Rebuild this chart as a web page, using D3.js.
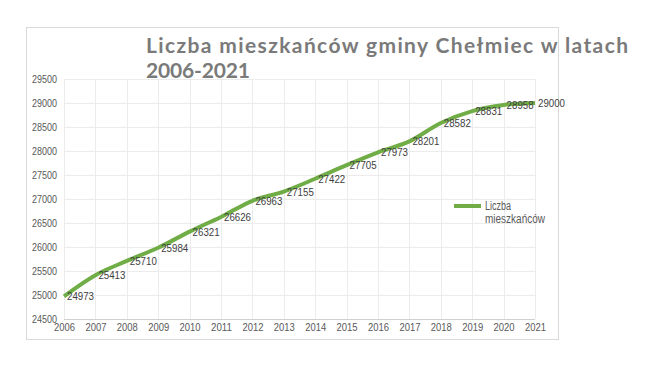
<!DOCTYPE html>
<html>
<head>
<meta charset="utf-8">
<script src="https://cdn.jsdelivr.net/npm/d3@7"></script>
<style>
  body { margin: 0; background: #fff; }
  svg { display: block; }
</style>
</head>
<body>
<div id="chart"></div>
<script>
const years = [2006, 2007, 2008, 2009, 2010, 2011, 2012, 2013, 2014, 2015, 2016, 2017, 2018, 2019, 2020, 2021];
const residents = [24973, 25413, 25710, 25984, 26321, 26626, 26963, 27155, 27422, 27705, 27973, 28201, 28582, 28831, 28958, 29000];
const yTicks = [24500, 25000, 25500, 26000, 26500, 27000, 27500, 28000, 28500, 29000, 29500];
const titleLines = ["Liczba mieszkańców gminy Chełmiec w latach", "2006-2021"];
const seriesName = ["Liczba", "mieszkańców"];

const width = 647, height = 377;
const font = "'Liberation Sans', Arial, sans-serif";

const svg = d3.select("#chart").append("svg")
    .attr("width", width)
    .attr("height", height);

// chart frame
svg.append("rect")
    .attr("x", 26.5).attr("y", 27.5)
    .attr("width", 532).attr("height", 312)
    .attr("fill", "#fff")
    .attr("stroke", "#d9d9d9");

const x = d3.scaleLinear().domain([2006, 2021]).range([64, 535]);
const y = d3.scaleLinear().domain([24500, 29500]).range([319, 79]);

// gridlines
const grid = svg.append("g");
grid.selectAll(".hg").data(yTicks).enter().append("line")
    .attr("x1", x(2006)).attr("x2", x(2021))
    .attr("y1", d => Math.round(y(d)) + 0.5).attr("y2", d => Math.round(y(d)) + 0.5)
    .attr("stroke", d => d === 24500 ? "#d0d0d0" : "#ececec");
grid.selectAll(".vg").data(years).enter().append("line")
    .attr("x1", d => Math.round(x(d)) + 0.5).attr("x2", d => Math.round(x(d)) + 0.5)
    .attr("y1", y(29500)).attr("y2", y(24500))
    .attr("stroke", "#ececec");

// axes
const yAxis = svg.append("g")
    .attr("transform", `translate(${x(2006)},0)`)
    .call(d3.axisLeft(y).tickValues(yTicks).tickSize(0).tickPadding(7).tickFormat(d3.format("d")));
yAxis.select(".domain").remove();
yAxis.selectAll(".tick text").attr("textLength", 25);

const xAxis = svg.append("g")
    .attr("transform", `translate(0,${y(24500)})`)
    .call(d3.axisBottom(x).tickValues(years).tickSize(0).tickPadding(5).tickFormat(d3.format("d")));
xAxis.select(".domain").remove();
xAxis.selectAll(".tick text").attr("textLength", 21);

svg.selectAll(".tick text")
    .attr("font-family", font)
    .attr("font-size", 10.5)
    .attr("lengthAdjust", "spacingAndGlyphs")
    .attr("fill", "#595959");

// series line
const points = years.map((yr, i) => [yr, residents[i]]);
const line = d3.line()
    .x(d => x(d[0]))
    .y(d => y(d[1]))
    .curve(d3.curveCatmullRom.alpha(0));

svg.append("path")
    .datum(points)
    .attr("fill", "none")
    .attr("stroke", "#70ad47")
    .attr("stroke-width", 4)
    .attr("stroke-linejoin", "round")
    .attr("d", line);

// data labels
svg.selectAll(".lbl").data(points).enter().append("text")
    .attr("x", d => x(d[0]) + 3)
    .attr("y", d => y(d[1]) + 4)
    .attr("font-family", font)
    .attr("font-size", 11)
    .attr("textLength", 27)
    .attr("lengthAdjust", "spacingAndGlyphs")
    .attr("fill", "#404040")
    .text(d => d[1]);

// title
svg.append("text")
    .attr("x", 146).attr("y", 53)
    .attr("font-family", "Lato, sans-serif")
    .attr("font-weight", "bold")
    .attr("font-size", 21)
    .attr("fill", "#7a7a7a")
    .attr("textLength", 482)
    .attr("lengthAdjust", "spacing")
    .text(titleLines[0]);
svg.append("text")
    .attr("x", 146).attr("y", 78)
    .attr("font-family", "Lato, sans-serif")
    .attr("font-weight", "bold")
    .attr("font-size", 21)
    .attr("fill", "#7a7a7a")
    .attr("textLength", 104)
    .attr("lengthAdjust", "spacing")
    .text(titleLines[1]);

// legend
svg.append("line")
    .attr("x1", 454).attr("x2", 481)
    .attr("y1", 206).attr("y2", 206)
    .attr("stroke", "#70ad47")
    .attr("stroke-width", 4);
svg.selectAll(".leg").data(seriesName).enter().append("text")
    .attr("x", 485)
    .attr("y", (d, i) => 210 + i * 13)
    .attr("font-family", font)
    .attr("font-size", 12)
    .attr("textLength", (d, i) => i === 0 ? 26 : 60)
    .attr("lengthAdjust", "spacingAndGlyphs")
    .attr("fill", "#595959")
    .text(d => d);
</script>
</body>
</html>
